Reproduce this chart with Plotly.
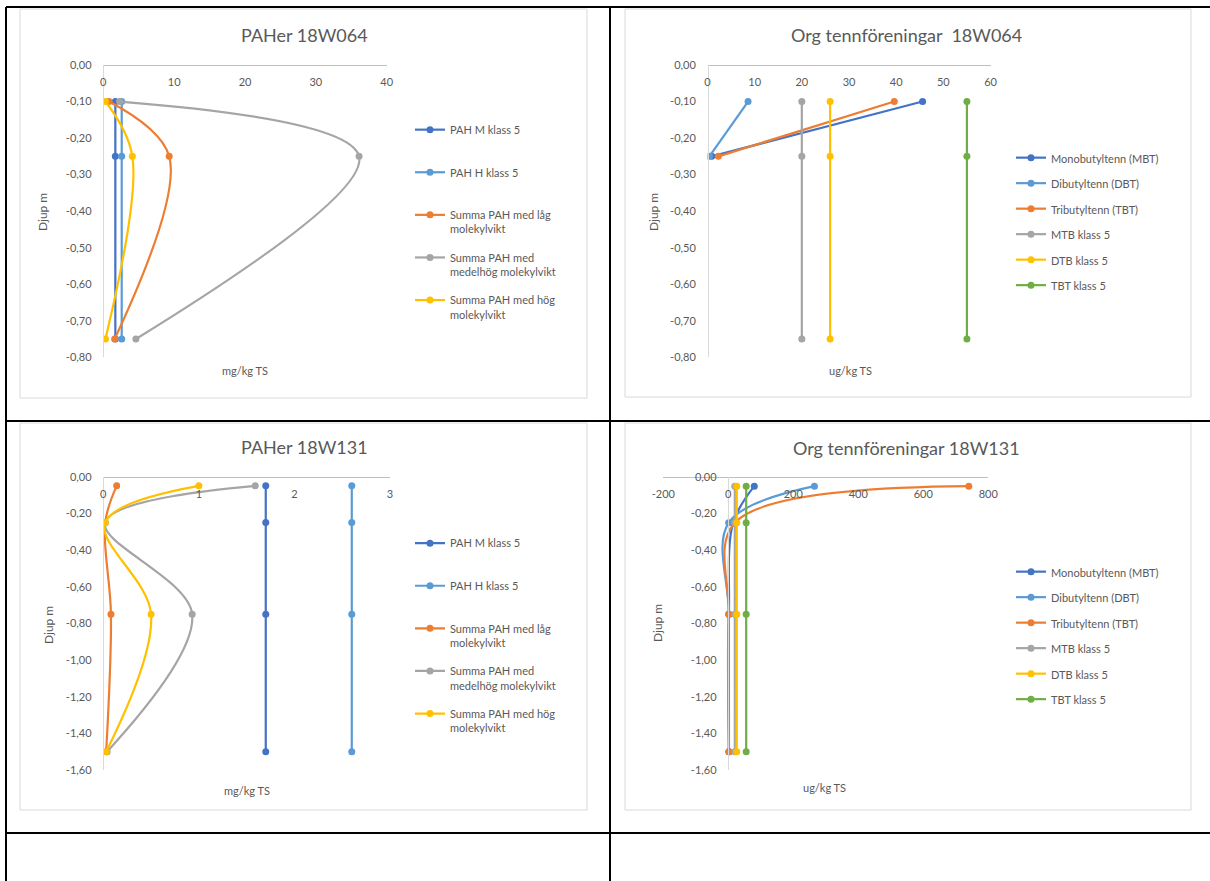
import plotly.graph_objects as go

W, H = 1210, 881
FONT = "Lato, 'Open Sans', sans-serif"
TXT = "#595959"

# ---------------- data ----------------
depth_18W064 = [-0.10, -0.25, -0.75]
depth_18W131 = [-0.05, -0.25, -0.75, -1.50]

# PAHer 18W064 (mg/kg TS)
pah_m_klass5_064 = [1.7, 1.7, 1.7]
pah_h_klass5_064 = [2.6, 2.6, 2.6]
pah_lag_064 = [0.8, 9.3, 1.6]
pah_medelhog_064 = [2.3, 36.1, 4.6]
pah_hog_064 = [0.3, 4.1, 0.3]

# Org tennföreningar 18W064 (ug/kg TS)
mbt_064 = [45.6, 0.9, None]
dbt_064 = [8.6, 0.4, None]
tbt_064 = [39.6, 2.3, None]
mtb_klass5_064 = [20, 20, 20]
dtb_klass5_064 = [26, 26, 26]
tbt_klass5_064 = [55, 55, 55]

# PAHer 18W131 (mg/kg TS)
pah_m_klass5_131 = [1.7, 1.7, 1.7, 1.7]
pah_h_klass5_131 = [2.6, 2.6, 2.6, 2.6]
pah_lag_131 = [0.14, 0.02, 0.08, 0.03]
pah_medelhog_131 = [1.59, 0.02, 0.93, 0.04]
pah_hog_131 = [1.00, 0.02, 0.50, 0.03]

# Org tennföreningar 18W131 (ug/kg TS)
mbt_131 = [80, 15, 2, 2]
dbt_131 = [265, 1, 2, 2]
tbt_131 = [740, 20, 1, 2]
mtb_klass5_131 = [20, 20, 20, 20]
dtb_klass5_131 = [26, 26, 26, 26]
tbt_klass5_131 = [55, 55, 55, 55]

pah_names = ["PAH M klass 5<br> ", "PAH H klass 5<br> ",
             "Summa PAH med låg<br>molekylvikt",
             "Summa PAH med<br>medelhög molekylvikt",
             "Summa PAH med hög<br>molekylvikt"]
tenn_names = ["Monobutyltenn (MBT)", "Dibutyltenn (DBT)", "Tributyltenn (TBT)",
              "MTB klass 5", "DTB klass 5", "TBT klass 5"]

titles = ["PAHer 18W064", "Org tennföreningar  18W064",
          "PAHer 18W131", "Org tennföreningar 18W131"]
x_titles = ["mg/kg TS", "ug/kg TS", "mg/kg TS", "ug/kg TS"]
y_title = "Djup m"

x_ticks_1 = [0, 10, 20, 30, 40]
x_ticks_2 = [0, 10, 20, 30, 40, 50, 60]
x_ticks_3 = [0, 1, 2, 3]
x_ticks_4 = [-200, 0, 200, 400, 600, 800]
y_ticks_064 = [0, -0.1, -0.2, -0.3, -0.4, -0.5, -0.6, -0.7, -0.8]
y_labels_064 = ["0,00", "-0,10", "-0,20", "-0,30", "-0,40", "-0,50", "-0,60", "-0,70", "-0,80"]
y_ticks_131 = [0, -0.2, -0.4, -0.6, -0.8, -1.0, -1.2, -1.4, -1.6]
y_labels_131 = ["0,00", "-0,20", "-0,40", "-0,60", "-0,80", "-1,00", "-1,20", "-1,40", "-1,60"]

pah_colors = ["#4472C4", "#5B9BD5", "#ED7D31", "#A5A5A5", "#FFC000"]
tenn_colors = ["#4472C4", "#5B9BD5", "#ED7D31", "#A5A5A5", "#FFC000", "#70AD47"]


def fx(px):
    return px / W


def fy(py):
    return 1 - py / H


charts = [
    dict(series=[pah_m_klass5_064, pah_h_klass5_064, pah_lag_064, pah_medelhog_064, pah_hog_064],
         names=pah_names, colors=pah_colors, depth=depth_18W064,
         xpx=(103.3, 386.7), ypx=(65, 357.3), xr=(0, 40), yr=(-0.8, 0),
         xt=x_ticks_1, yt=y_ticks_064, yl=y_labels_064,
         title=(304, 35), xtitle=(245, 370), ytitle=(42, 212),
         legend=(410, 116), gap=11, border=(20, 9, 587, 398)),
    dict(series=[mbt_064, dbt_064, tbt_064, mtb_klass5_064, dtb_klass5_064, tbt_klass5_064],
         names=tenn_names, colors=tenn_colors, depth=depth_18W064,
         xpx=(707.5, 990.5), ypx=(65, 357.3), xr=(0, 60), yr=(-0.8, 0),
         xt=x_ticks_2, yt=y_ticks_064, yl=y_labels_064,
         title=(906, 35), xtitle=(850, 370), ytitle=(653, 212),
         legend=(1011, 144), gap=6.5, border=(625, 9, 1191, 397)),
    dict(series=[pah_m_klass5_131, pah_h_klass5_131, pah_lag_131, pah_medelhog_131, pah_hog_131],
         names=pah_names, colors=pah_colors, depth=depth_18W131,
         xpx=(103.3, 390), ypx=(476.7, 770), xr=(0, 3), yr=(-1.6, 0),
         xt=x_ticks_3, yt=y_ticks_131, yl=y_labels_131,
         title=(304, 447), xtitle=(247, 790), ytitle=(48, 625),
         legend=(410, 529.5), gap=11, border=(20, 423, 587, 810)),
    dict(series=[mbt_131, dbt_131, tbt_131, mtb_klass5_131, dtb_klass5_131, tbt_klass5_131],
         names=tenn_names, colors=tenn_colors, depth=depth_18W131,
         xpx=(663.3, 988.3), ypx=(477, 770), xr=(-200, 800), yr=(-1.6, 0),
         xt=x_ticks_4, yt=y_ticks_131, yl=y_labels_131,
         title=(906, 448), xtitle=(825, 787), ytitle=(657, 623),
         legend=(1011, 558), gap=6.5, border=(625, 423, 1191, 810)),
]

fig = go.Figure()
annotations = []
shapes = []
layout = {}


def ann(text, px, py, size, angle=0):
    return dict(text=text, x=fx(px), y=fy(py), xref="paper", yref="paper",
                xanchor="center", yanchor="middle", showarrow=False, textangle=angle,
                font=dict(size=size, color=TXT, family=FONT))


for n, c in enumerate(charts, start=1):
    sfx = "" if n == 1 else str(n)
    lg = "legend" if n == 1 else f"legend{n}"
    for i, (vals, name, col) in enumerate(zip(c["series"], c["names"], c["colors"])):
        fig.add_trace(go.Scatter(
            x=vals, y=c["depth"], name=name, mode="lines+markers",
            line=dict(color=col, width=2.2, shape="spline", smoothing=1),
            marker=dict(color=col, size=7),
            xaxis=f"x{sfx}", yaxis=f"y{sfx}", legend=lg,
            legendgroup=f"c{n}s{i}",
        ))
    x0, x1 = c["xpx"]
    ytop, ybot = c["ypx"]
    # pixel position of value 0 on the x scale (where the vertical axis crosses)
    zero_px = x0 + (0 - c["xr"][0]) / (c["xr"][1] - c["xr"][0]) * (x1 - x0)
    layout[f"xaxis{sfx}"] = dict(
        domain=[fx(x0), fx(x1)], range=list(c["xr"]), anchor="free", position=fy(ytop),
        side="bottom", showline=True, linecolor="#BFBFBF", linewidth=1,
        showgrid=False, zeroline=False, ticks="outside", ticklen=7,
        tickcolor="rgba(0,0,0,0)", tickvals=c["xt"], ticktext=[str(v) for v in c["xt"]],
        tickfont=dict(size=11, color=TXT, family=FONT), fixedrange=True, automargin=False,
    )
    layout[f"yaxis{sfx}"] = dict(
        domain=[fy(ybot), fy(ytop)], range=list(c["yr"]), anchor="free", position=fx(zero_px),
        showline=True, linecolor="#D9D9D9", linewidth=1, showgrid=False, zeroline=False,
        ticks="outside", ticklen=9.5, tickcolor="rgba(0,0,0,0)",
        tickvals=c["yt"], ticktext=c["yl"],
        tickfont=dict(size=11, color=TXT, family=FONT), fixedrange=True, automargin=False,
    )
    layout[lg] = dict(
        x=fx(c["legend"][0]), y=fy(c["legend"][1]), xanchor="left", yanchor="top",
        font=dict(size=11, color=TXT, family=FONT), bgcolor="rgba(0,0,0,0)",
        tracegroupgap=c["gap"], valign="top",
    )
    annotations.append(ann(titles[n - 1], *c["title"], 18))
    annotations.append(ann(x_titles[n - 1], *c["xtitle"], 11))
    annotations.append(ann(y_title, *c["ytitle"], 12, angle=-90))
    bx0, by0, bx1, by1 = c["border"]
    shapes.append(dict(type="rect", xref="paper", yref="paper",
                       x0=fx(bx0), x1=fx(bx1), y0=fy(by1), y1=fy(by0),
                       line=dict(color="#D9D9D9", width=1), layer="below"))

# table lines of the surrounding document table
table_lines = [
    (6, 7, 1210, 7), (6, 421, 1210, 421), (6, 833, 1210, 833),
    (6, 7, 6, 881), (610, 7, 610, 881),
]
for (a, b, cc, d) in table_lines:
    shapes.append(dict(type="line", xref="paper", yref="paper",
                       x0=fx(a), y0=fy(b), x1=fx(cc), y1=fy(d),
                       line=dict(color="black", width=2)))

fig.update_layout(
    width=W, height=H, margin=dict(l=0, r=0, t=0, b=0, autoexpand=False),
    paper_bgcolor="white", plot_bgcolor="white",
    showlegend=True, annotations=annotations, shapes=shapes,
    font=dict(family=FONT, color=TXT),
    **layout,
)

# remove the default page margin so the 1210x881 figure fills the window exactly
fig.write_html("out.html", config={"displayModeBar": False},
               post_script="document.body.style.margin='0px';")
